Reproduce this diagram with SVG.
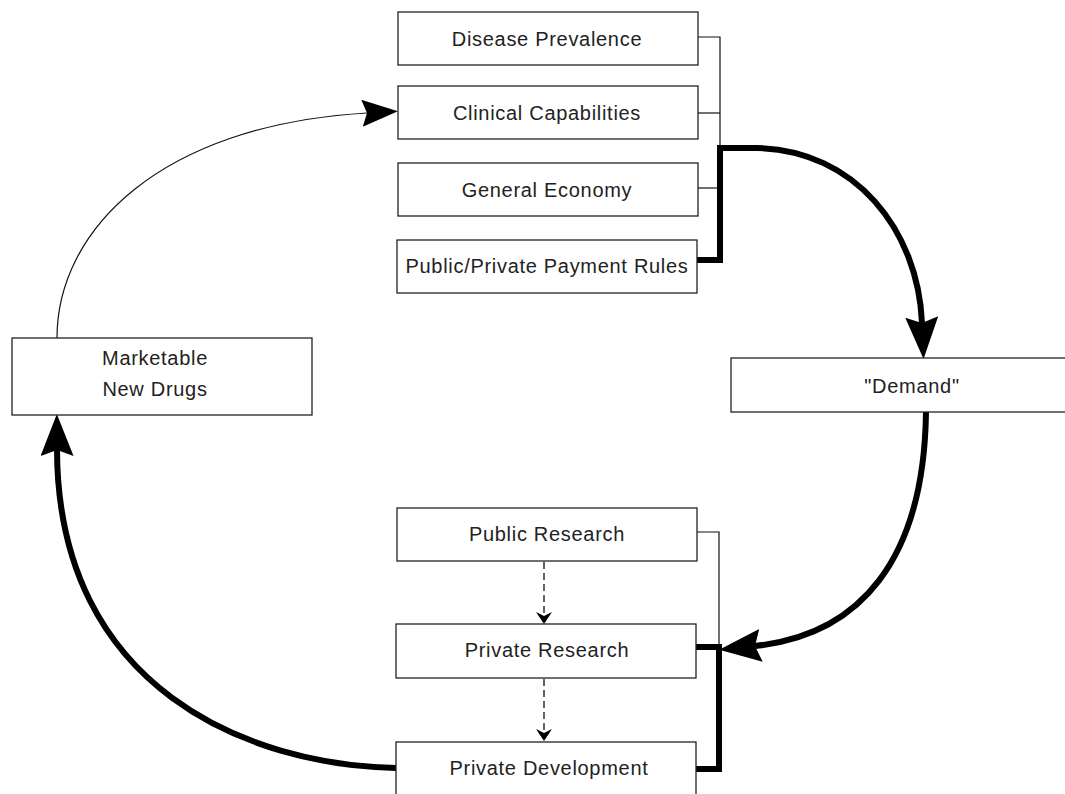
<svg xmlns="http://www.w3.org/2000/svg" width="1065" height="794" viewBox="0 0 1065 794">
<defs>
<style>
.box{fill:#fff;stroke:#222;stroke-width:1.3}
.lbl{font-family:"Liberation Sans",Arial,sans-serif;font-size:20px;fill:#222;text-anchor:middle;letter-spacing:0.7px}
.thin{fill:none;stroke:#111;stroke-width:1.2}
.thick{fill:none;stroke:#000;stroke-width:6}
.dash{fill:none;stroke:#111;stroke-width:1.3;stroke-dasharray:7 4}
</style>
<marker id="bigArrow" viewBox="0 0 42 33" markerUnits="userSpaceOnUse" markerWidth="42" markerHeight="33" refX="6" refY="16.5" orient="auto">
<path d="M0,0 L42,16.5 L0,33 L6,16.5 Z" fill="#000"/>
</marker>
<marker id="thinArrow" viewBox="0 0 36 27" markerUnits="userSpaceOnUse" markerWidth="36" markerHeight="27" refX="5" refY="13.5" orient="auto">
<path d="M0,0 L36,13.5 L0,27 L5,13.5 Z" fill="#000"/>
</marker>
<marker id="smallArrow" viewBox="0 0 12 16" markerUnits="userSpaceOnUse" markerWidth="12" markerHeight="16" refX="4" refY="8" orient="auto">
<path d="M0,0 L12,8 L0,16 L4,8 Z" fill="#000"/>
</marker>
</defs>
<rect width="1065" height="794" fill="#fff"/>

<g id="connectors">
<!-- top bracket -->
<path class="thin" d="M698,37 H720 V148"/>
<path class="thin" d="M698,113 H720"/>
<path class="thin" d="M698,188 H720"/>
<path class="thick" d="M697,260 H720 V148 H757 C855,150 918,230 922,323" marker-end="url(#bigArrow)"/>
<!-- demand to research -->
<path class="thick" d="M926,412 C924,560 860,635 755,646" marker-end="url(#bigArrow)"/>
<!-- bottom bracket -->
<path class="thin" d="M697,532 H719 V647"/>
<path class="thick" d="M696,647 H719 V769 H696"/>
<!-- dashed -->
<path class="dash" d="M544,562 V616" marker-end="url(#smallArrow)"/>
<path class="dash" d="M544,679 V733" marker-end="url(#smallArrow)"/>
<!-- development to marketable -->
<path class="thick" d="M396,768 C250,765 58,690 57,450" marker-end="url(#bigArrow)"/>
<!-- marketable to clinical -->
<path class="thin" d="M57,338 C57,230 160,125 367,113" marker-end="url(#thinArrow)"/>
</g>

<g id="disease-prevalence">
<rect class="box" x="398" y="12" width="300" height="53"/>
<text class="lbl" x="547" y="46">Disease Prevalence</text>
</g>
<g id="clinical-capabilities">
<rect class="box" x="398" y="86" width="300" height="53"/>
<text class="lbl" x="547" y="120">Clinical Capabilities</text>
</g>
<g id="general-economy">
<rect class="box" x="398" y="163" width="300" height="53"/>
<text class="lbl" x="547" y="197">General Economy</text>
</g>
<g id="payment-rules">
<rect class="box" x="397" y="240" width="300" height="53"/>
<text class="lbl" x="547" y="273">Public/Private Payment Rules</text>
</g>
<g id="demand">
<rect class="box" x="731" y="358" width="362" height="54"/>
<text class="lbl" x="912" y="393">"Demand"</text>
</g>
<g id="marketable-new-drugs">
<rect class="box" x="12" y="338" width="300" height="77"/>
<text class="lbl" x="155" y="365">Marketable</text>
<text class="lbl" x="155" y="396">New Drugs</text>
</g>
<g id="public-research">
<rect class="box" x="397" y="508" width="300" height="53"/>
<text class="lbl" x="547" y="541">Public Research</text>
</g>
<g id="private-research">
<rect class="box" x="396" y="624" width="300" height="54"/>
<text class="lbl" x="547" y="657">Private Research</text>
</g>
<g id="private-development">
<rect class="box" x="396" y="742" width="300" height="54"/>
<text class="lbl" x="549" y="775">Private Development</text>
</g>
</svg>
